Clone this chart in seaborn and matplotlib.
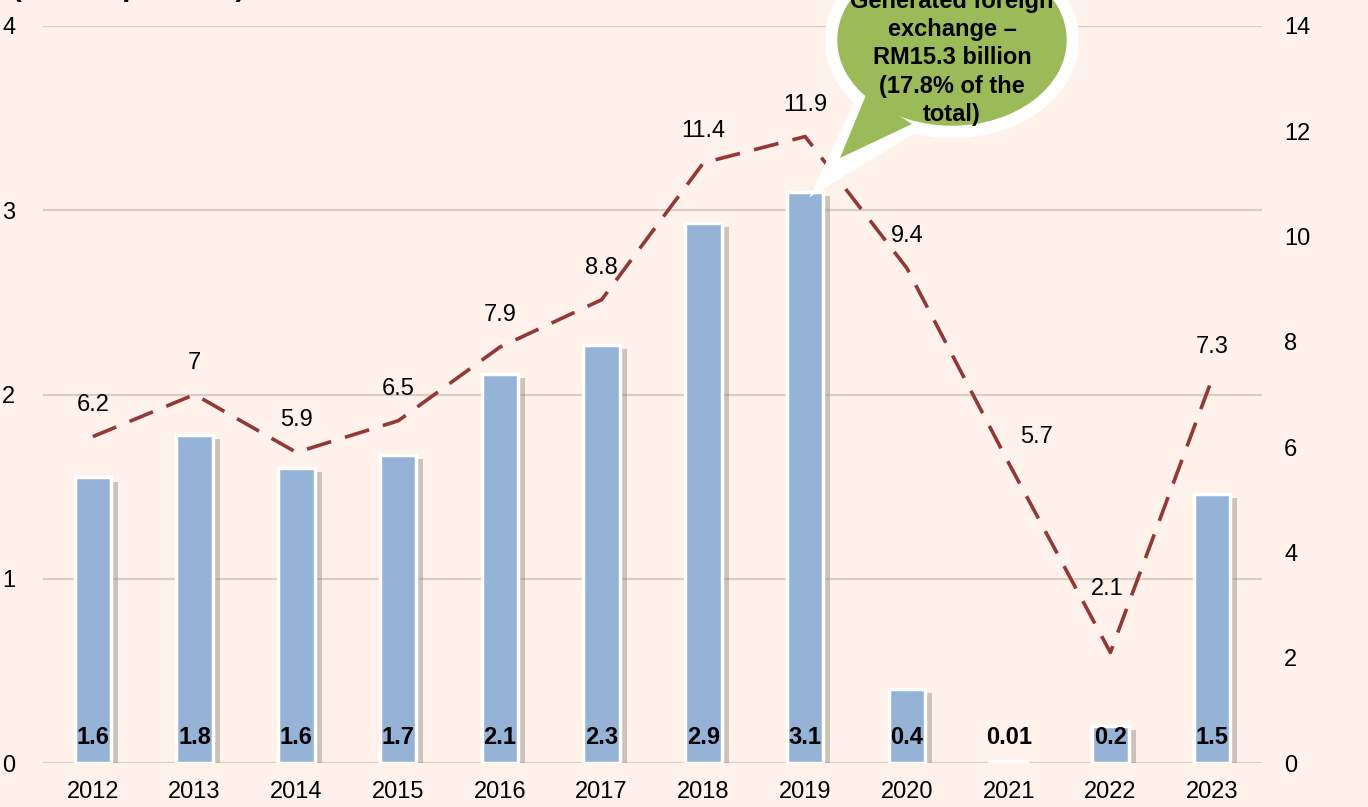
import matplotlib
matplotlib.use("Agg")
import matplotlib.pyplot as plt
import matplotlib.patheffects as pe
from matplotlib.patches import Ellipse, Polygon
import seaborn as sns
import pandas as pd

years = ["2012", "2013", "2014", "2015", "2016", "2017", "2018", "2019", "2020", "2021", "2022", "2023"]
bar_values = [1.55, 1.78, 1.60, 1.67, 2.11, 2.27, 2.93, 3.10, 0.40, 0.01, 0.20, 1.46]
bar_labels = ["1.6", "1.8", "1.6", "1.7", "2.1", "2.3", "2.9", "3.1", "0.4", "0.01", "0.2", "1.5"]
line_values = [6.2, 7.0, 5.9, 6.5, 7.9, 8.8, 11.4, 11.9, 9.4, 5.7, 2.1, 7.3]
line_labels = ["6.2", "7", "5.9", "6.5", "7.9", "8.8", "11.4", "11.9", "9.4", "5.7", "2.1", "7.3"]
left_ticks = [0, 1, 2, 3, 4]
right_ticks = [0, 2, 4, 6, 8, 10, 12, 14]
unit_label = "(Million persons)"
bubble_text = "Generated foreign\nexchange \u2013\nRM15.3 billion\n(17.8% of the\ntotal)"

BG = "#FEF2EB"
BAR = "#95B3D7"
LINE = "#953735"
GRID = "#D9CEC6"

sns.set_theme(style="white")
plt.rcParams["font.family"] = ["Liberation Sans", "DejaVu Sans"]

df = pd.DataFrame({"year": years, "bar": bar_values, "line": line_values, "x": range(len(years))})

fig = plt.figure(figsize=(13.68, 8.07), dpi=100, facecolor=BG)
ax = fig.add_axes([43 / 1368, 1 - 763 / 807, (1262 - 43) / 1368, (763 - 26) / 807])
ax.set_facecolor(BG)

sns.barplot(data=df, x="year", y="bar", ax=ax, color=BAR, width=0.36, saturation=1,
            edgecolor="white", linewidth=2.5, zorder=3)
for p in ax.patches:
    p.set_path_effects([pe.SimplePatchShadow(offset=(5, -3), shadow_rgbFace="#8a7a72", alpha=0.4),
                        pe.Normal()])

ax.set_ylim(0, 4)
ax.set_xlim(-0.49, 11.49)
ax.set_yticks(left_ticks)
ax.yaxis.grid(True, color=GRID, linewidth=1.6, zorder=0)
ax.set_axisbelow(True)
for s in ax.spines.values():
    s.set_visible(False)
ax.set_xlabel("")
ax.set_ylabel("")
ax.tick_params(axis="y", labelsize=17, pad=20, length=0, colors="black")
ax.tick_params(axis="x", labelsize=17, pad=13, length=0, colors="black")

for i, lab in enumerate(bar_labels):
    ax.annotate(lab, (i, 0), xytext=(0, 18), textcoords="offset points",
                ha="center", va="center", fontsize=17, fontweight="bold", color="black", zorder=5)

ax2 = ax.twinx()
sns.lineplot(data=df, x="x", y="line", ax=ax2, color=LINE, linewidth=2.6, zorder=4)
ax2.lines[0].set_linestyle((0, (7, 4)))
ax2.set_ylim(0, 14)
ax2.set_yticks(right_ticks)
ax2.set_ylabel("")
ax2.set_xlabel("")
for s in ax2.spines.values():
    s.set_visible(False)
ax2.tick_params(axis="y", labelsize=17, pad=16, length=0, colors="black")
ax2.grid(False)

offsets = {9: (20, 19), 10: (-2, 46)}
for i, lab in enumerate(line_labels):
    dx, dy = offsets.get(i, (0, 23))
    ax2.annotate(lab, (i, line_values[i]), xytext=(dx, dy), textcoords="offset points",
                 ha="center", va="center", fontsize=17, color="black")

fig.text(12 / 1368, 1 - 2 / 807, unit_label, ha="left", va="bottom", fontsize=21,
         fontweight="bold", color="black")

# speech bubble overlay in pixel coordinates
ov = fig.add_axes([0, 0, 1, 1], facecolor="none")
ov.set_xlim(0, 1368)
ov.set_ylim(807, 0)
ov.axis("off")
GREEN = "#9BBB59"
tail = [(866, 95), (912, 124), (840, 158)]
ov.add_patch(Polygon([(864, 88), (918, 128), (816, 190)], closed=True, facecolor="white",
                     edgecolor="white", linewidth=4, zorder=1))
ov.add_patch(Ellipse((952, 40), 242, 184, facecolor=GREEN, edgecolor="white", linewidth=9, zorder=2))
ov.add_patch(Polygon(tail, closed=True, facecolor=GREEN, edgecolor="none", zorder=3))
ov.text(952, 58, bubble_text, ha="center", va="center", fontsize=17, fontweight="bold",
        color="black", linespacing=1.3, zorder=4)

fig.savefig("out.png", dpi=100, facecolor=BG)
